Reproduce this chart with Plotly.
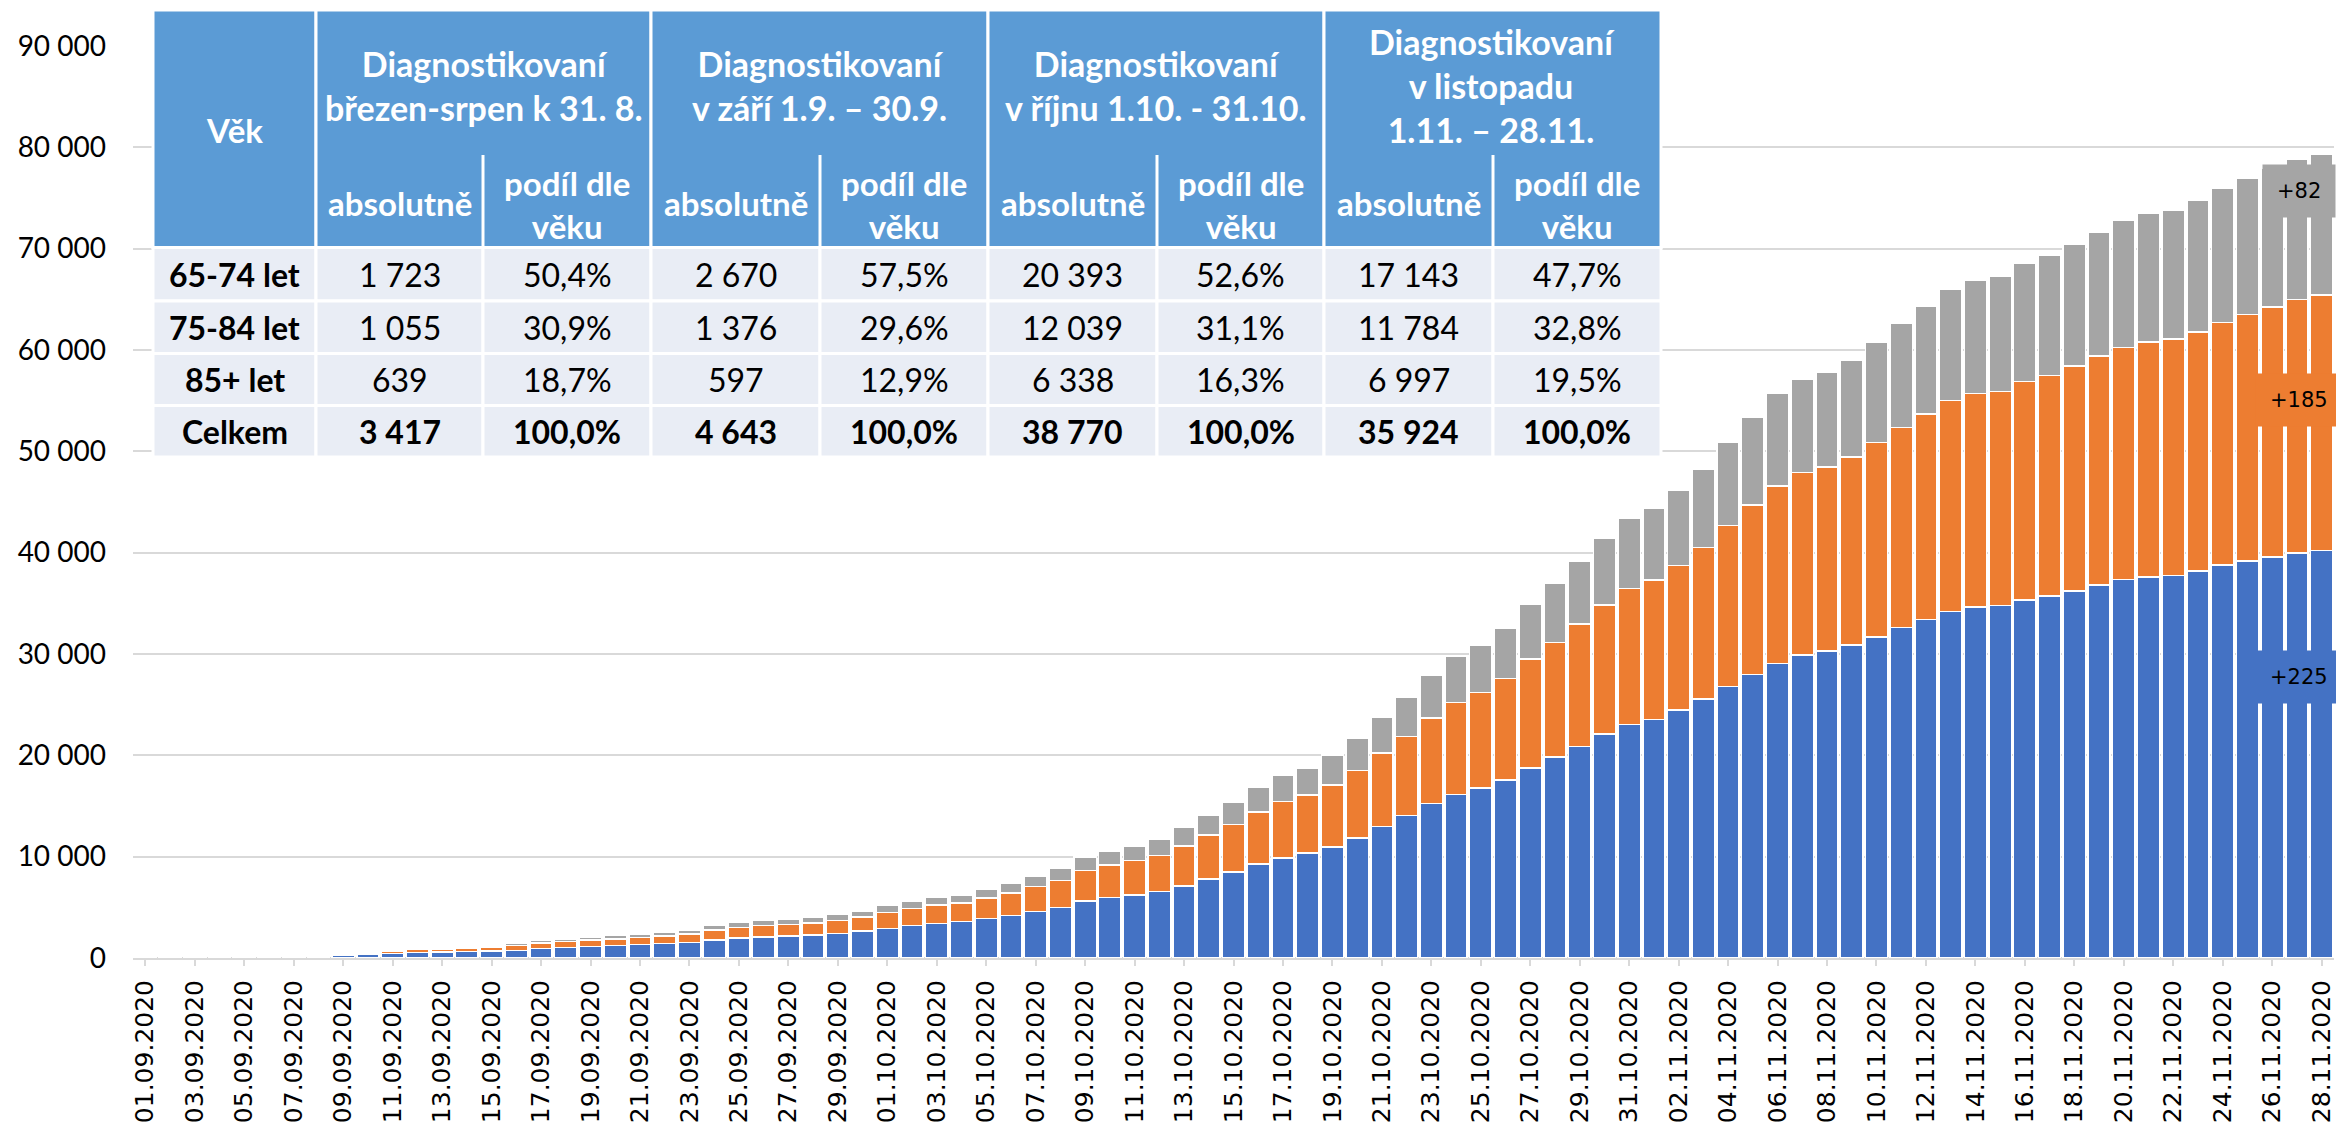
import plotly.graph_objects as go
import pandas as pd

# ---------------- data ----------------
dates = pd.date_range("2020-09-01", "2020-11-28").strftime("%d.%m.%Y").tolist()

# cumulative number of diagnosed since 1.9.2020, by age group
age_65_74 = [17, 31, 54, 74, 100, 120, 160, 210, 270, 340, 430, 540, 580, 620, 690, 742, 944, 1046, 1146, 1247,
             1315, 1417, 1551, 1754, 1956, 2057, 2158, 2259, 2427, 2670, 2934, 3224, 3421, 3586, 3882, 4211, 4572,
             4967, 5625, 5954, 6217, 6546, 7105, 7796, 8487, 9276, 9868, 10346, 10943, 11858, 12973, 14047, 15241,
             16156, 16753, 17549, 18743, 19817, 20891, 22085, 23063, 23557, 24473, 25547, 26781, 27975, 29049,
             29900, 30301, 30883, 31676, 32628, 33421, 34215, 34638, 34796, 35325, 35748, 36224, 36806, 37335,
             37599, 37758, 38181, 38763, 39186, 39556, 39981, 40206]
age_75_84 = [9, 16, 28, 38, 50, 60, 72, 90, 140, 160, 230, 300, 320, 350, 420, 500, 540, 572, 608, 641, 708, 774,
             810, 1010, 1079, 1146, 1147, 1214, 1281, 1376, 1550, 1644, 1809, 1842, 2039, 2203, 2467, 2697, 3026,
             3224, 3388, 3586, 3948, 4342, 4704, 5132, 5560, 5730, 6128, 6646, 7242, 7799, 8436, 9073, 9431, 10028,
             10744, 11341, 12058, 12734, 13415, 13729, 14245, 14962, 15917, 16753, 17549, 18000, 18139, 18562,
             19196, 19725, 20254, 20782, 21047, 21100, 21576, 21735, 22211, 22581, 22898, 23215, 23321, 23585,
             23955, 24325, 24696, 25014, 25199]
age_85_plus = [4, 8, 13, 18, 25, 30, 38, 50, 70, 90, 120, 160, 170, 180, 190, 205, 240, 270, 300, 310, 320, 370,
               420, 440, 470, 480, 520, 540, 570, 597, 675, 724, 757, 789, 888, 954, 1053, 1185, 1316, 1381, 1415,
               1579, 1809, 1974, 2171, 2434, 2598, 2667, 2945, 3183, 3581, 3900, 4258, 4536, 4656, 4974, 5451,
               5850, 6168, 6645, 6935, 7123, 7442, 7760, 8237, 8674, 9112, 9260, 9413, 9519, 9890, 10312, 10682,
               11000, 11211, 11370, 11634, 11845, 12004, 12268, 12586, 12692, 12744, 13009, 13221, 13432, 13698,
               13850, 13932]

series_names = ["65-74 let", "75-84 let", "85+ let"]
series_colors = ["#4472C4", "#ED7D31", "#A5A5A5"]
label_values = [27700, 55100, 75700]   # y position (axis units) of the "+N" labels

y_ticks = list(range(0, 90001, 10000))

# table
table_rows = ["65-74 let", "75-84 let", "85+ let", "Celkem"]
period_headers = ["Diagnostikovaní<br>březen-srpen k 31. 8.",
                  "Diagnostikovaní<br>v září 1.9. – 30.9.",
                  "Diagnostikovaní<br>v říjnu 1.10. - 31.10.",
                  "Diagnostikovaní<br>v listopadu<br>1.11. – 28.11."]
abs_march_aug = [1723, 1055, 639, 3417]
abs_sep = [2670, 1376, 597, 4643]
abs_oct = [20393, 12039, 6338, 38770]
abs_nov = [17143, 11784, 6997, 35924]
share_march_aug = ["50,4%", "30,9%", "18,7%", "100,0%"]
share_sep = ["57,5%", "29,6%", "12,9%", "100,0%"]
share_oct = ["52,6%", "31,1%", "16,3%", "100,0%"]
share_nov = ["47,7%", "32,8%", "19,5%", "100,0%"]

# ---------------- geometry (pixels) ----------------
W, H = 2336, 1127
PL, PR, PT, PB = 133, 2334, 46, 958


def px(x):
    return (x - PL) / (PR - PL)


def py(y):
    return (PB - y) / (PB - PT)


FONT = "Lato"
fig = go.Figure()
for name, vals, col in zip(series_names, [age_65_74, age_75_84, age_85_plus], series_colors):
    fig.add_trace(go.Bar(x=dates, y=vals, name=name, marker_color=col,
                         marker_line_color="white", marker_line_width=1.5))

shapes = []
annotations = []

# ---- "+N" labels for the last day ----
for vals, col, yv in zip([age_65_74, age_75_84, age_85_plus], series_colors, label_values):
    annotations.append(dict(x=px(2299), xref="paper", y=yv, yref="y",
                            xanchor="center", yanchor="middle",
                            text=f"+{vals[-1] - vals[-2]}", showarrow=False,
                            bgcolor=col, borderpad=14,
                            font=dict(family="DejaVu Sans", size=21, color="black")))

# ---- table ----
HEADER = "#5B9BD5"
CELL = "#E9EDF5"
col_edges = [153, 316, 483, 651, 820, 988, 1157, 1324, 1493, 1661]
row_edges = [247.5, 301, 353.5, 405.5, 457]
T_TOP, SUB_TOP = 10, 155


def rect(x0, y0, x1, y1, fill):
    shapes.append(dict(type="rect", xref="paper", yref="paper", x0=px(x0), x1=px(x1),
                       y0=py(y1), y1=py(y0), fillcolor=fill,
                       line=dict(color="white", width=3), layer="above"))


def text(xc, yc, t, size=32, color="black"):
    annotations.append(dict(x=px(xc), y=py(yc), xref="paper", yref="paper", text=t,
                            showarrow=False, xanchor="center", yanchor="middle",
                            font=dict(family=FONT, size=size, color=color)))


# header
rect(col_edges[0], T_TOP, col_edges[1], row_edges[0], HEADER)
text((col_edges[0] + col_edges[1]) / 2, 130, "<b>Věk</b>", 33, "white")
for g in range(4):
    x0, xm, x1 = col_edges[1 + 2 * g], col_edges[2 + 2 * g], col_edges[3 + 2 * g]
    rect(x0, T_TOP, x1, row_edges[0], HEADER)
    shapes.append(dict(type="line", xref="paper", yref="paper", x0=px(xm), x1=px(xm),
                       y0=py(SUB_TOP), y1=py(row_edges[0]), line=dict(color="white", width=3),
                       layer="above"))
    text((x0 + x1) / 2, 85, f"<b>{period_headers[g]}</b>", 34, "white")
    text((x0 + xm) / 2, 203, "<b>absolutně</b>", 33, "white")
    text((xm + x1) / 2, 205, "<b>podíl dle<br>věku</b>", 33, "white")

# body
abs_cols = [abs_march_aug, abs_sep, abs_oct, abs_nov]
share_cols = [share_march_aug, share_sep, share_oct, share_nov]
for r in range(4):
    y0, y1 = row_edges[r], row_edges[r + 1]
    yc = (y0 + y1) / 2
    bold_row = r == 3
    for c in range(9):
        rect(col_edges[c], y0, col_edges[c + 1], y1, CELL)
    text((col_edges[0] + col_edges[1]) / 2, yc, f"<b>{table_rows[r]}</b>")
    for g in range(4):
        a = f"{abs_cols[g][r]:,}".replace(",", " ")
        s = share_cols[g][r]
        if bold_row:
            a, s = f"<b>{a}</b>", f"<b>{s}</b>"
        text((col_edges[1 + 2 * g] + col_edges[2 + 2 * g]) / 2, yc, a)
        text((col_edges[2 + 2 * g] + col_edges[3 + 2 * g]) / 2, yc, s)

fig.update_layout(
    width=W, height=H, autosize=False,
    margin=dict(l=PL, r=W - PR, t=PT, b=H - PB, pad=0),
    barmode="stack", bargap=0.1, showlegend=False,
    plot_bgcolor="white", paper_bgcolor="white",
    separators=", ",
    shapes=shapes, annotations=annotations,
    font=dict(family=FONT, color="black"),
)
fig.update_xaxes(type="category", tickmode="array", tickvals=dates[::2], ticktext=dates[::2],
                 tickangle=-90, tickfont=dict(family="DejaVu Sans", size=25, color="black"),
                 ticks="outside", ticklen=6, tickwidth=2, tickcolor="#D9D9D9",
                 ticklabelstandoff=4,
                 showline=True, linecolor="#D9D9D9", linewidth=2, showgrid=False,
                 automargin=False)
fig.update_yaxes(range=[0, 90000], tickvals=y_ticks, tickformat=",d",
                 tickfont=dict(family=FONT, size=28, color="black"),
                 showgrid=True, gridcolor="#D9D9D9", gridwidth=2,
                 zeroline=True, zerolinecolor="#D9D9D9", zerolinewidth=2,
                 ticks="", ticklabelstandoff=26, automargin=False)

fig.write_html("out.html", config={"displayModeBar": False},
               post_script="document.body.style.margin='0';document.body.style.overflow='hidden';")
